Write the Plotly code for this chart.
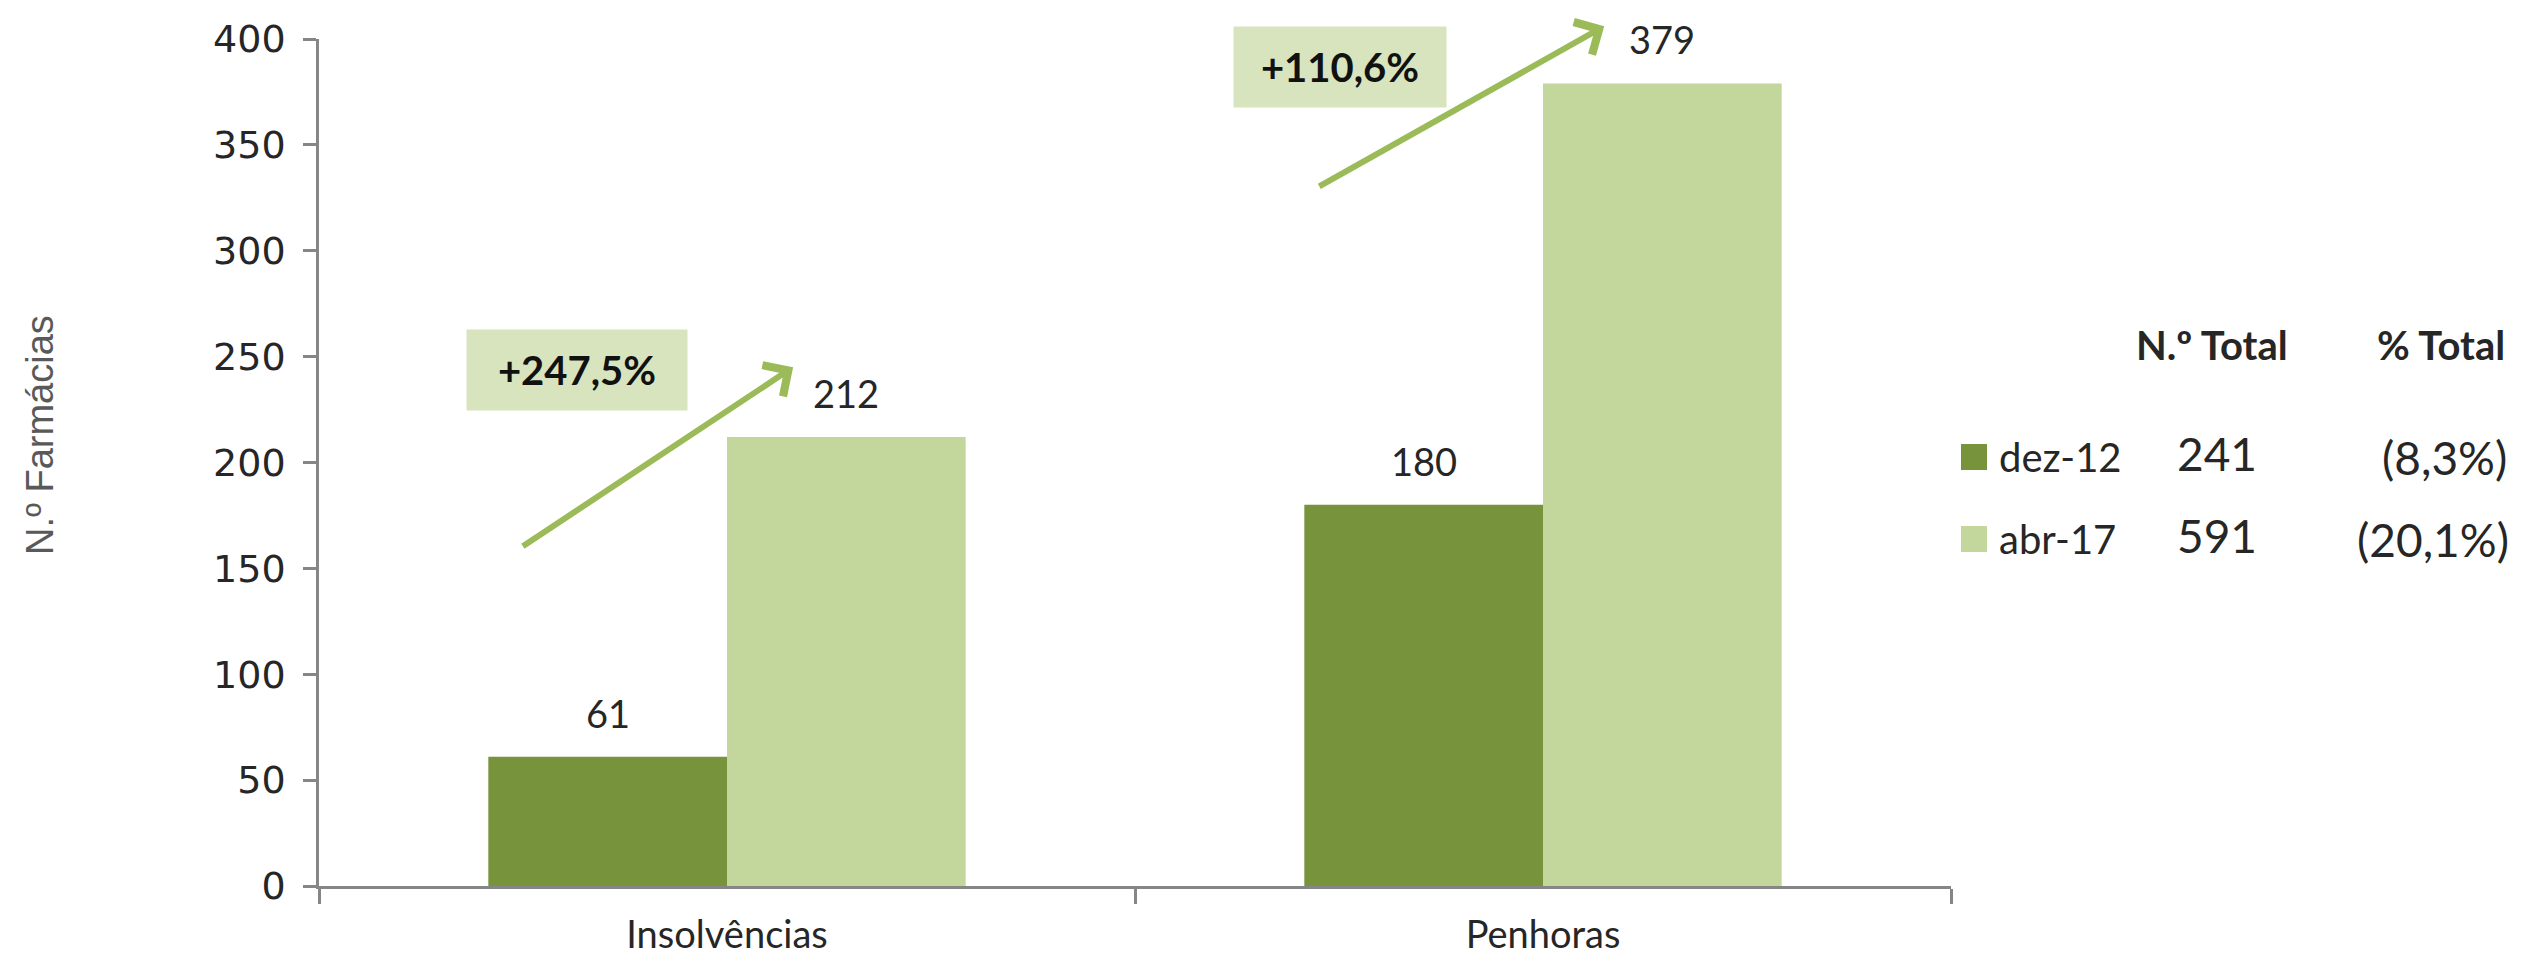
import plotly.graph_objects as go

# ---- data ----
categories = ["Insolvências", "Penhoras"]
series_names = ["dez-12", "abr-17"]
dez12 = [61, 180]
abr17 = [212, 379]
pct_total = ["(8,3%)", "(20,1%)"]
y_ticks = [0, 50, 100, 150, 200, 250, 300, 350, 400]

# ---- style ----
OFF = 8  # default body margin of the html page
W, H = 2527 - OFF, 956 - OFF
L, T = 319 - OFF, 39 - OFF
R = W - (1951 - OFF)
B = H - (886 - OFF)
C_DARK = "#77933C"
C_LIGHT = "#C3D69B"
C_BOX = "#D7E4BD"
C_ARROW = "#9BBB59"
C_AXIS = "#868686"
C_TEXT = "#262626"
CAL = "Lato, Carlito, Calibri, sans-serif"
BARGAP = 0.415

pw, ph = W - L - R, H - T - B


def px_x(p):  # screen pixel -> paper
    return (p - OFF - L) / pw


def px_y(p):
    return (H - B - (p - OFF)) / ph


fig = go.Figure()
fig.add_bar(name=series_names[0], x=categories, y=dez12, marker_color=C_DARK,
            marker_line_width=0, showlegend=False)
fig.add_bar(name=series_names[1], x=categories, y=abr17, marker_color=C_LIGHT,
            marker_line_width=0, showlegend=False)

ann = []
half = (1 - BARGAP) / 4
for i, cat in enumerate(categories):
    for off, vals in ((-half, dez12), (half, abr17)):
        ann.append(dict(x=i + off, y=vals[i], xref="x", yref="y", text=str(vals[i]),
                        showarrow=False, yshift=44, font=dict(family=CAL, size=38, color=C_TEXT)))

# growth boxes and arrows
growth = [f"+{(b / a - 1) * 100:.1f}%".replace(".", ",") for a, b in zip(dez12, abr17)]
box_pos = [(-0.184, 243.7, 218), (-0.249, 387, 210)]
arrow_pos = [((-0.252, 160), (0.081, 245)), ((-0.276, 330), (0.075, 406))]
for i in range(len(categories)):
    bx, by, bw = box_pos[i]
    ann.append(dict(x=i + bx, y=by, xref="x", yref="y", text=f"<b>{growth[i]}</b>",
                    showarrow=False, bgcolor=C_BOX, width=bw, height=78,
                    font=dict(family=CAL, size=40, color="#111111")))
    (tx, ty), (hx, hy) = arrow_pos[i]
    ann.append(dict(x=i + hx, y=hy, ax=i + tx, ay=ty, xref="x", yref="y",
                    axref="x", ayref="y", text="", showarrow=True, arrowhead=4,
                    arrowsize=1.2, arrowwidth=6, arrowcolor=C_ARROW))


# custom legend / table
def txt(x, y, s, size, xanchor="center", family=CAL, color=C_TEXT, angle=0):
    ann.append(dict(x=px_x(x), y=px_y(y), xref="paper", yref="paper", text=s,
                    xanchor=xanchor, yanchor="middle", showarrow=False, textangle=angle,
                    font=dict(family=family, size=size, color=color)))


txt(2212, 345, "<b>N.º Total</b>", 40)
txt(2441, 345, "<b>% Total</b>", 40)
shapes = []
rows_y = [457, 539]
pct_x = [2444, 2433]
colors = [C_DARK, C_LIGHT]
totals = [sum(dez12), sum(abr17)]
for k in range(2):
    cy = rows_y[k]
    shapes.append(dict(type="rect", xref="paper", yref="paper", x0=px_x(1961), x1=px_x(1987),
                       y0=px_y(cy + 13), y1=px_y(cy - 13), fillcolor=colors[k], line_width=0))
    txt(1997, cy, series_names[k], 40, "left")
    txt(2217, cy - 4, str(totals[k]), 46)
    txt(pct_x[k], cy, pct_total[k], 46)

# y-axis title
txt(40, 435, "N.º Farmácias", 38, family="Liberation Sans, Arial", color="#595959", angle=-90)

fig.update_layout(
    width=W, height=H, autosize=False,
    margin=dict(l=L, r=R, t=T, b=B),
    paper_bgcolor="white", plot_bgcolor="white",
    barmode="group", bargap=BARGAP, bargroupgap=0,
    annotations=ann, shapes=shapes,
)
fig.update_xaxes(type="category", range=[-0.5, 1.5], showline=True, linecolor=C_AXIS, linewidth=2.5,
                 ticks="outside", tickson="boundaries", ticklen=15, tickcolor=C_AXIS, tickwidth=2.5,
                 ticklabelstandoff=14,
                 tickfont=dict(family=CAL, size=38, color=C_TEXT), showgrid=False, automargin=False)
fig.update_yaxes(range=[0, 400], tickvals=y_ticks, showline=True, linecolor=C_AXIS, linewidth=2.5,
                 ticks="outside", ticklen=13, tickcolor=C_AXIS, tickwidth=2.5,
                 ticklabelstandoff=10,
                 tickfont=dict(family="DejaVu Sans", size=38, color=C_TEXT),
                 showgrid=False, zeroline=False, automargin=False)

fig.write_html("out.html")
